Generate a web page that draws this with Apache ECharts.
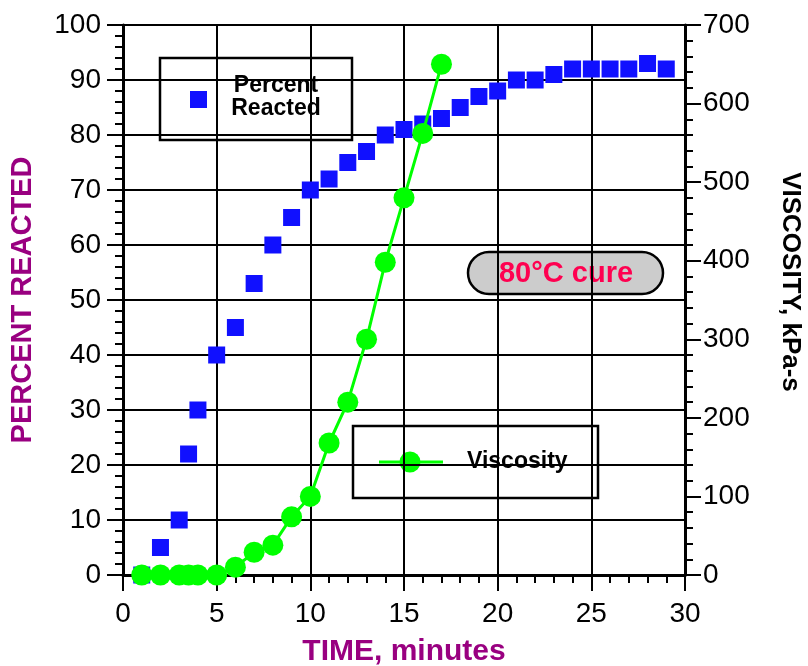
<!DOCTYPE html>
<html>
<head>
<meta charset="utf-8">
<title>Percent reacted and viscosity, 80°C cure</title>
<script src="https://cdn.jsdelivr.net/npm/echarts@6/dist/echarts.min.js"></script>
<style>
  html, body { margin: 0; padding: 0; background: #fff; }
  #chart { width: 808px; height: 666px; }
</style>
</head>
<body>
<div id="chart"></div>
<script>
// percent reacted (left axis)
const reactedTime = [1, 2, 3, 3.5, 4, 5, 6, 7, 8, 9, 10, 11, 12, 13, 14, 15, 16, 17, 18, 19, 20, 21, 22, 23, 24, 25, 26, 27, 28, 29]
const reactedPercent = [0, 5, 10, 22, 30, 40, 45, 53, 60, 65, 70, 72, 75, 77, 80, 81, 82, 83, 85, 87, 88, 90, 90, 91, 92, 92, 92, 92, 93, 92]

// viscosity, kPa-s (right axis)
const viscosityTime = [1, 2, 3, 3.5, 4, 5, 6, 7, 8, 9, 10, 11, 12, 13, 14, 15, 16, 17]
const viscosityValue = [0, 0, 0, 0, 0, 0, 10, 29, 38, 74, 100, 168, 220, 300, 398, 480, 562, 650]

// axis ticks
const timeTicks = [0, 5, 10, 15, 20, 25, 30]
const percentTicks = [0, 10, 20, 30, 40, 50, 60, 70, 80, 90, 100]
const viscosityTicks = [0, 100, 200, 300, 400, 500, 600, 700]

const FONT = '"Liberation Sans", Arial, Helvetica, sans-serif'
const BLUE = '#1010ff'
const GREEN = '#00ff00'
const PURPLE = '#990080'

const zip = ( xs, ys ) => xs.map( ( x, i ) => [x, ys[i]] )

const axisRange = ticks => ( {
  min : ticks[0],
  max : ticks[ticks.length - 1],
  interval : ticks[1] - ticks[0]
} )

const axisCommon = {
  axisLine : { show : true, onZero : false, lineStyle : { color : '#000', width : 3 }},
  axisTick : { show : true, length : 16, lineStyle : { color : '#000', width : 2 }},
  minorTick : { show : true, splitNumber : 5, length : 8, lineStyle : { color : '#000', width : 2 }},
  axisLabel : { color : '#000', fontSize : 28, fontFamily : FONT }
}

const chart = echarts.init( document.getElementById( 'chart' ), null, { renderer : 'canvas' } )

chart.setOption( {
  animation : false,
  backgroundColor : '#fff',
  grid : {
    left : 123,
    right : 123,
    top : 25,
    bottom : 91,
    containLabel : false,
    outerBoundsMode : 'none'
  },
  xAxis : {
    type : 'value',
    ...axisRange( timeTicks ),
    ...axisCommon,
    axisLabel : { ...axisCommon.axisLabel, margin : 25 },
    splitLine : { show : true, lineStyle : { color : '#000', width : 2 }},
    name : 'TIME, minutes',
    nameLocation : 'middle',
    nameGap : 62,
    nameTextStyle : { color : PURPLE, fontSize : 30, fontWeight : 'bold', fontFamily : FONT }
  },
  yAxis : [
    {
      type : 'value',
      position : 'left',
      ...axisRange( percentTicks ),
      ...axisCommon,
      axisLabel : { ...axisCommon.axisLabel, margin : 22 },
      splitLine : { show : true, lineStyle : { color : '#000', width : 2 }},
      name : 'PERCENT REACTED',
      nameLocation : 'middle',
      nameGap : 86,
      nameTextStyle : { color : PURPLE, fontSize : 29, fontWeight : 'bold', fontFamily : FONT }
    },
    {
      type : 'value',
      position : 'right',
      ...axisRange( viscosityTicks ),
      ...axisCommon,
      axisLabel : { ...axisCommon.axisLabel, margin : 18 },
      splitLine : { show : false },
      name : 'VISCOSITY, kPa-s',
      nameLocation : 'middle',
      nameRotate : -90,
      nameGap : 92,
      nameTextStyle : { color : '#000', fontSize : 26, fontWeight : 'bold', fontFamily : FONT, padding : [0, 36, 0, 0] }
    }
  ],
  series : [
    {
      name : 'Percent Reacted',
      type : 'scatter',
      yAxisIndex : 0,
      symbol : 'rect',
      symbolSize : 17,
      itemStyle : { color : BLUE, opacity : 1 },
      data : zip( reactedTime, reactedPercent ),
      z : 2
    },
    {
      name : 'Viscosity',
      type : 'line',
      yAxisIndex : 1,
      symbol : 'circle',
      symbolSize : 21,
      showAllSymbol : true,
      lineStyle : { color : GREEN, width : 3 },
      itemStyle : { color : GREEN, borderWidth : 0 },
      data : zip( viscosityTime, viscosityValue ),
      z : 3
    }
  ],
  graphic : [
    // legend: percent reacted
    {
      type : 'group',
      z : 100,
      children : [
        {
          type : 'rect',
          shape : { x : 160, y : 58, width : 192, height : 82 },
          style : { fill : '#fff', stroke : '#000', lineWidth : 2.5 }
        },
        {
          type : 'rect',
          shape : { x : 190, y : 91, width : 17, height : 17 },
          style : { fill : BLUE }
        },
        {
          type : 'text',
          x : 276,
          y : 97,
          style : {
            text : 'Percent\nReacted',
            fill : '#000',
            font : 'bold 23px ' + FONT,
            lineHeight : 23,
            align : 'center',
            verticalAlign : 'middle'
          }
        }
      ]
    },
    // legend: viscosity
    {
      type : 'group',
      z : 100,
      children : [
        {
          type : 'rect',
          shape : { x : 353, y : 426, width : 245, height : 72 },
          style : { fill : '#fff', stroke : '#000', lineWidth : 2.5 }
        },
        {
          type : 'line',
          shape : { x1 : 379, y1 : 462, x2 : 443, y2 : 462 },
          style : { stroke : GREEN, lineWidth : 3 }
        },
        {
          type : 'circle',
          shape : { cx : 410, cy : 462, r : 10.5 },
          style : { fill : GREEN }
        },
        {
          type : 'text',
          x : 467,
          y : 462,
          style : {
            text : 'Viscosity',
            fill : '#000',
            font : 'bold 23px ' + FONT,
            align : 'left',
            verticalAlign : 'middle'
          }
        }
      ]
    },
    // condition label
    {
      type : 'group',
      z : 100,
      children : [
        {
          type : 'rect',
          shape : { x : 468, y : 252, width : 195, height : 42, r : 21 },
          style : { fill : '#cccccc', stroke : '#000', lineWidth : 2.5 }
        },
        {
          type : 'text',
          x : 566,
          y : 274,
          style : {
            text : '80°C cure',
            fill : '#ff0050',
            font : 'bold 29px ' + FONT,
            align : 'center',
            verticalAlign : 'middle'
          }
        }
      ]
    }
  ]
} )

window.addEventListener( 'resize', () => {
  chart.resize()
} )
</script>
</body>
</html>
